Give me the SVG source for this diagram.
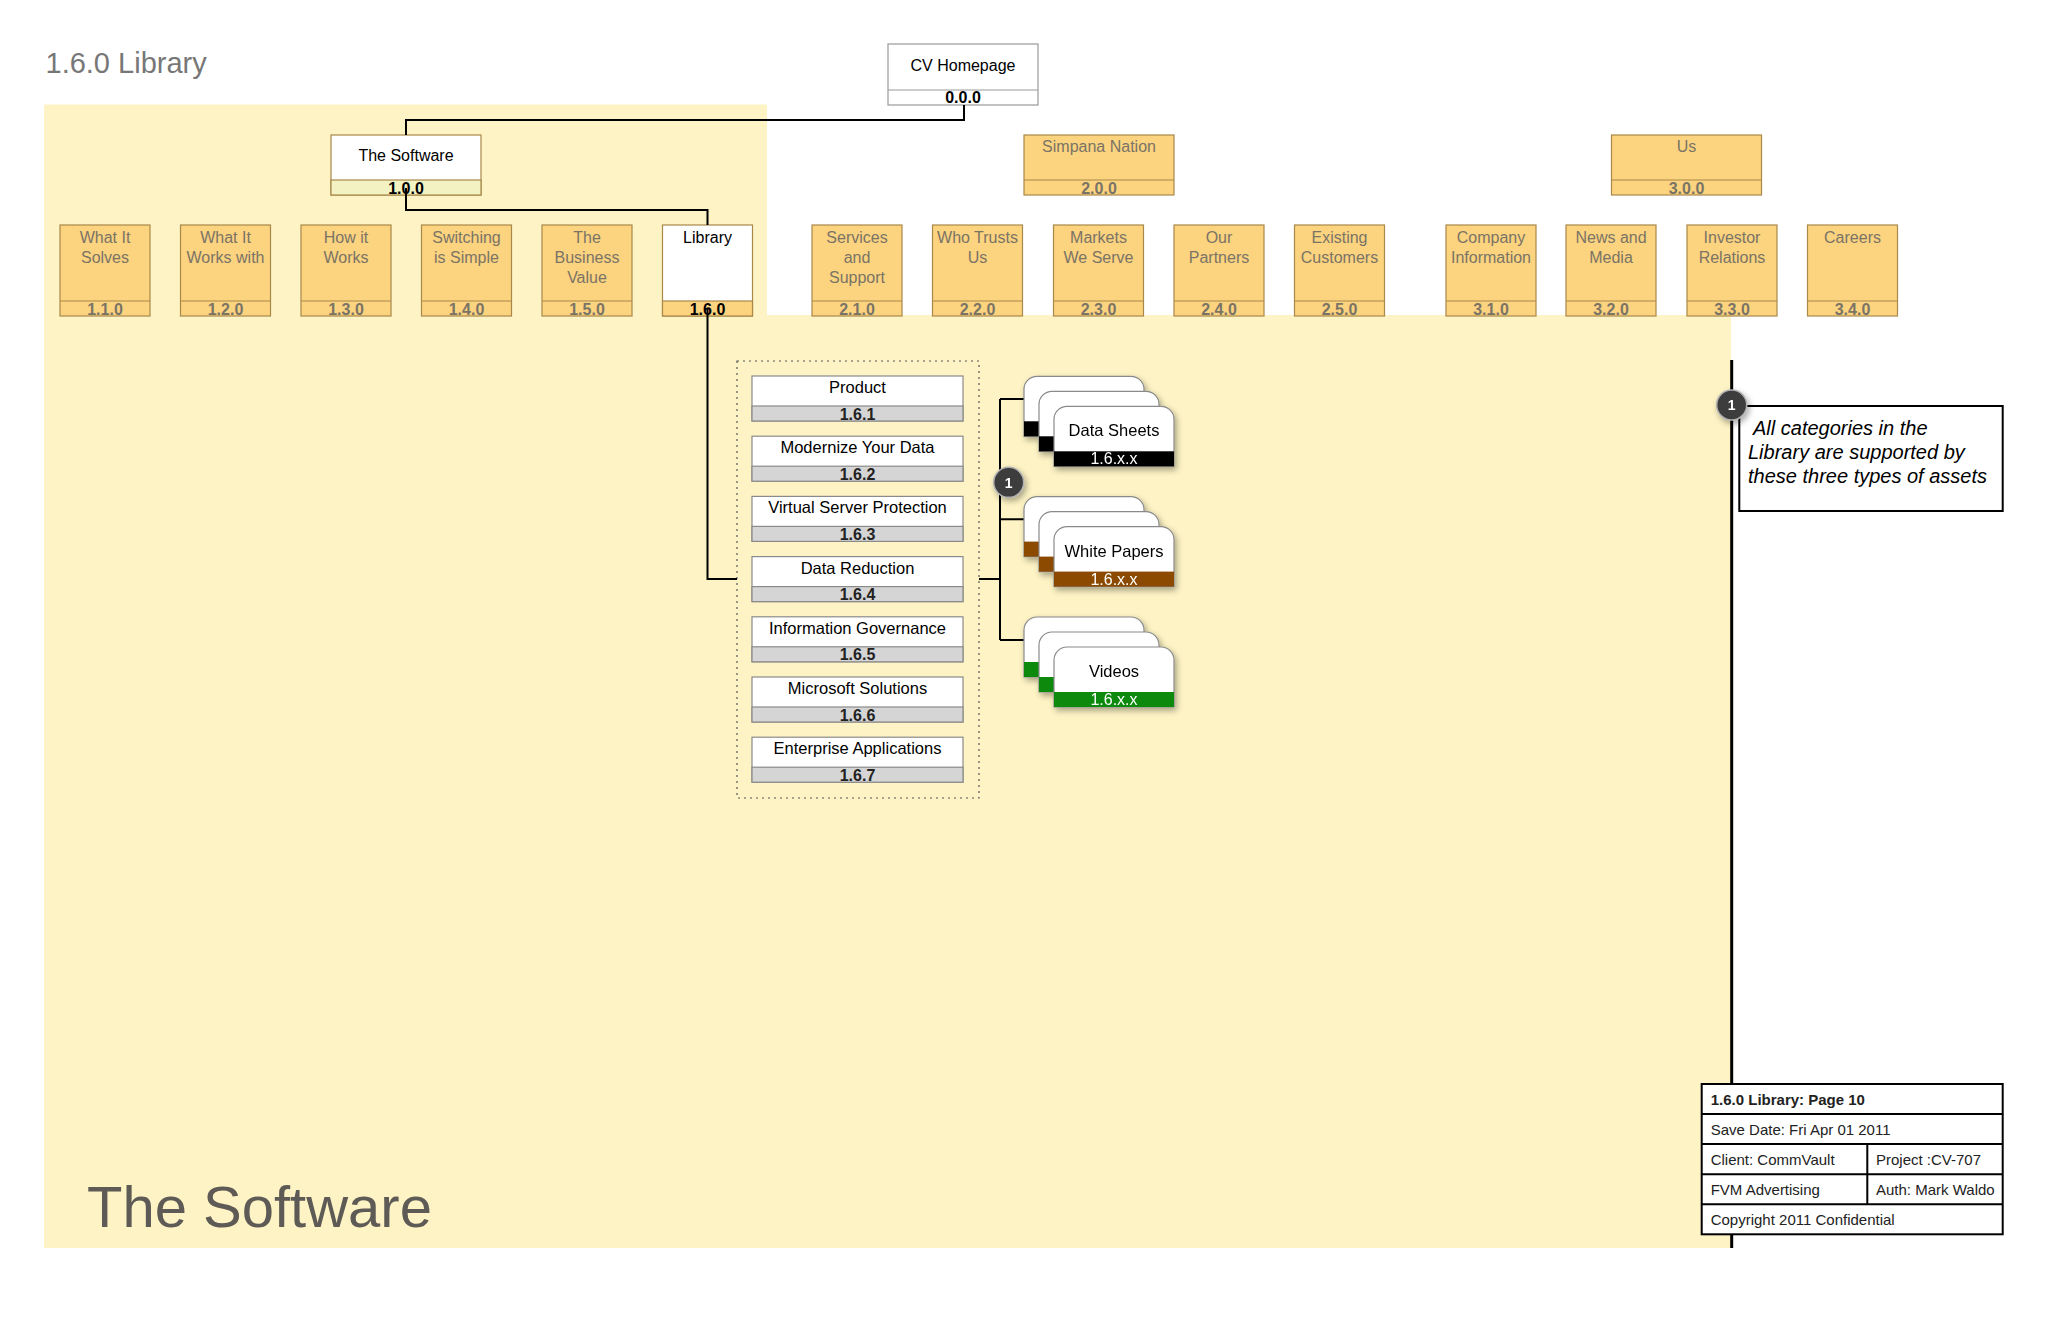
<svg xmlns="http://www.w3.org/2000/svg" width="2048" height="1325" viewBox="0 0 2048 1325">
<defs>
<style>
text{font-family:"Liberation Sans",Arial,sans-serif}
.lbl{font-size:16px;text-anchor:middle}
.num{font-size:16px;font-weight:bold;text-anchor:middle}
.dim{fill:#7a7466}
.ob{fill:#fcd37f;stroke:#a8894a;stroke-width:1.2}
.wb{fill:#ffffff;stroke:#a8894a;stroke-width:1.2}
.cb{fill:#ffffff;stroke:#8a8a8a;stroke-width:1.2}
.gb{fill:#d5d5d5;stroke:#8a8a8a;stroke-width:1.2}
.ct{font-size:16.5px;text-anchor:middle;fill:#000}
.cn{font-size:16px;font-weight:bold;text-anchor:middle;fill:#222}
.conn{fill:none;stroke:#000;stroke-width:2}
.card{fill:#ffffff;stroke:#8a8a8a;stroke-width:1.2}
.at{font-size:16.5px;text-anchor:middle;fill:#000}
.an{font-size:16px;text-anchor:middle;fill:#ffffff}
.tb{font-size:15px;fill:#222}
</style>
<filter id="sh" x="-30%" y="-30%" width="160%" height="160%">
<feGaussianBlur in="SourceAlpha" stdDeviation="3"/>
<feOffset dx="2" dy="3" result="b"/>
<feComponentTransfer><feFuncA type="linear" slope="0.35"/></feComponentTransfer>
<feMerge><feMergeNode/><feMergeNode in="SourceGraphic"/></feMerge>
</filter>
<path id="cardShape" d="M0,60 V13 A13,13 0 0 1 13,0 H107 A13,13 0 0 1 120,13 V60 Z"/>
</defs>

<rect width="2048" height="1325" fill="#ffffff"/>
<path d="M44,104.5 H767 V315 H1731 V1248 H44 Z" fill="#fdf3c4"/>

<text x="45.5" y="73" font-size="29" fill="#777777">1.6.0 Library</text>
<text x="87" y="1227" font-size="58" fill="#5e5a55">The Software</text>

<!-- Level 0 -->
<g id="n000">
<rect x="888" y="44" width="150" height="61" fill="#fff" stroke="#999" stroke-width="1.2"/>
<line x1="888" y1="90" x2="1038" y2="90" stroke="#999" stroke-width="1.2"/>
<text class="lbl" x="963" y="70.5">CV Homepage</text>
<text class="num" x="963" y="103">0.0.0</text>
</g>

<!-- Level 1 -->
<g id="n100">
<rect x="331" y="135" width="150" height="60" class="wb"/>
<rect x="331" y="180" width="150" height="15" fill="#f2f2c2" stroke="#a8894a" stroke-width="1.2"/>
<text class="lbl" x="406" y="160.5">The Software</text>
<text class="num" x="406" y="193.5">1.0.0</text>
</g>
<g id="n200">
<rect x="1024" y="135" width="150" height="60" class="ob"/>
<line x1="1024" y1="180" x2="1174" y2="180" stroke="#a8894a" stroke-width="1.2"/>
<text class="lbl dim" x="1099" y="152">Simpana Nation</text>
<text class="num dim" x="1099" y="193.5">2.0.0</text>
</g>
<g id="n300">
<rect x="1611.5" y="135" width="150" height="60" class="ob"/>
<line x1="1611.5" y1="180" x2="1761.5" y2="180" stroke="#a8894a" stroke-width="1.2"/>
<text class="lbl dim" x="1686.5" y="152">Us</text>
<text class="num dim" x="1686.5" y="193.5">3.0.0</text>
</g>

<!-- Level 2 -->
<g id="n110"><rect x="60" y="225" width="90" height="91" class="ob"/><line x1="60" y1="301" x2="150" y2="301" stroke="#a8894a" stroke-width="1.2"/><text class="lbl dim" x="105" y="242.5">What It</text><text class="lbl dim" x="105" y="262.5">Solves</text><text class="num dim" x="105" y="314.5">1.1.0</text></g>
<g id="n120"><rect x="180.5" y="225" width="90" height="91" class="ob"/><line x1="180.5" y1="301" x2="270.5" y2="301" stroke="#a8894a" stroke-width="1.2"/><text class="lbl dim" x="225.5" y="242.5">What It</text><text class="lbl dim" x="225.5" y="262.5">Works with</text><text class="num dim" x="225.5" y="314.5">1.2.0</text></g>
<g id="n130"><rect x="301" y="225" width="90" height="91" class="ob"/><line x1="301" y1="301" x2="391" y2="301" stroke="#a8894a" stroke-width="1.2"/><text class="lbl dim" x="346" y="242.5">How it</text><text class="lbl dim" x="346" y="262.5">Works</text><text class="num dim" x="346" y="314.5">1.3.0</text></g>
<g id="n140"><rect x="421.5" y="225" width="90" height="91" class="ob"/><line x1="421.5" y1="301" x2="511.5" y2="301" stroke="#a8894a" stroke-width="1.2"/><text class="lbl dim" x="466.5" y="242.5">Switching</text><text class="lbl dim" x="466.5" y="262.5">is Simple</text><text class="num dim" x="466.5" y="314.5">1.4.0</text></g>
<g id="n150"><rect x="542" y="225" width="90" height="91" class="ob"/><line x1="542" y1="301" x2="632" y2="301" stroke="#a8894a" stroke-width="1.2"/><text class="lbl dim" x="587" y="242.5">The</text><text class="lbl dim" x="587" y="262.5">Business</text><text class="lbl dim" x="587" y="282.5">Value</text><text class="num dim" x="587" y="314.5">1.5.0</text></g>
<g id="n160"><rect x="662.5" y="225" width="90" height="91" class="wb"/><rect x="662.5" y="301" width="90" height="15" class="ob"/><text class="lbl" x="707.5" y="242.5">Library</text><text class="num" x="707.5" y="314.5">1.6.0</text></g>
<g id="n210"><rect x="812" y="225" width="90" height="91" class="ob"/><line x1="812" y1="301" x2="902" y2="301" stroke="#a8894a" stroke-width="1.2"/><text class="lbl dim" x="857" y="242.5">Services</text><text class="lbl dim" x="857" y="262.5">and</text><text class="lbl dim" x="857" y="282.5">Support</text><text class="num dim" x="857" y="314.5">2.1.0</text></g>
<g id="n220"><rect x="932.5" y="225" width="90" height="91" class="ob"/><line x1="932.5" y1="301" x2="1022.5" y2="301" stroke="#a8894a" stroke-width="1.2"/><text class="lbl dim" x="977.5" y="242.5">Who Trusts</text><text class="lbl dim" x="977.5" y="262.5">Us</text><text class="num dim" x="977.5" y="314.5">2.2.0</text></g>
<g id="n230"><rect x="1053.5" y="225" width="90" height="91" class="ob"/><line x1="1053.5" y1="301" x2="1143.5" y2="301" stroke="#a8894a" stroke-width="1.2"/><text class="lbl dim" x="1098.5" y="242.5">Markets</text><text class="lbl dim" x="1098.5" y="262.5">We Serve</text><text class="num dim" x="1098.5" y="314.5">2.3.0</text></g>
<g id="n240"><rect x="1174" y="225" width="90" height="91" class="ob"/><line x1="1174" y1="301" x2="1264" y2="301" stroke="#a8894a" stroke-width="1.2"/><text class="lbl dim" x="1219" y="242.5">Our</text><text class="lbl dim" x="1219" y="262.5">Partners</text><text class="num dim" x="1219" y="314.5">2.4.0</text></g>
<g id="n250"><rect x="1294.5" y="225" width="90" height="91" class="ob"/><line x1="1294.5" y1="301" x2="1384.5" y2="301" stroke="#a8894a" stroke-width="1.2"/><text class="lbl dim" x="1339.5" y="242.5">Existing</text><text class="lbl dim" x="1339.5" y="262.5">Customers</text><text class="num dim" x="1339.5" y="314.5">2.5.0</text></g>
<g id="n310"><rect x="1446" y="225" width="90" height="91" class="ob"/><line x1="1446" y1="301" x2="1536" y2="301" stroke="#a8894a" stroke-width="1.2"/><text class="lbl dim" x="1491" y="242.5">Company</text><text class="lbl dim" x="1491" y="262.5">Information</text><text class="num dim" x="1491" y="314.5">3.1.0</text></g>
<g id="n320"><rect x="1566" y="225" width="90" height="91" class="ob"/><line x1="1566" y1="301" x2="1656" y2="301" stroke="#a8894a" stroke-width="1.2"/><text class="lbl dim" x="1611" y="242.5">News and</text><text class="lbl dim" x="1611" y="262.5">Media</text><text class="num dim" x="1611" y="314.5">3.2.0</text></g>
<g id="n330"><rect x="1687" y="225" width="90" height="91" class="ob"/><line x1="1687" y1="301" x2="1777" y2="301" stroke="#a8894a" stroke-width="1.2"/><text class="lbl dim" x="1732" y="242.5">Investor</text><text class="lbl dim" x="1732" y="262.5">Relations</text><text class="num dim" x="1732" y="314.5">3.3.0</text></g>
<g id="n340"><rect x="1807.5" y="225" width="90" height="91" class="ob"/><line x1="1807.5" y1="301" x2="1897.5" y2="301" stroke="#a8894a" stroke-width="1.2"/><text class="lbl dim" x="1852.5" y="242.5">Careers</text><text class="num dim" x="1852.5" y="314.5">3.4.0</text></g>

<!-- Level 3 group -->
<g id="group16">
<rect x="737" y="361" width="242" height="437" fill="none" stroke="#555" stroke-width="1.2" stroke-dasharray="2,4"/>
</g>
<g id="n161"><rect x="752" y="376" width="211" height="45" class="cb"/><rect x="752" y="406" width="211" height="15" class="gb"/><text class="ct" x="857.5" y="393">Product</text><text class="cn" x="857.5" y="419.5">1.6.1</text></g>
<g id="n162"><rect x="752" y="436.2" width="211" height="45" class="cb"/><rect x="752" y="466.2" width="211" height="15" class="gb"/><text class="ct" x="857.5" y="453.2">Modernize Your Data</text><text class="cn" x="857.5" y="479.7">1.6.2</text></g>
<g id="n163"><rect x="752" y="496.4" width="211" height="45" class="cb"/><rect x="752" y="526.4" width="211" height="15" class="gb"/><text class="ct" x="857.5" y="513.4">Virtual Server Protection</text><text class="cn" x="857.5" y="539.9">1.6.3</text></g>
<g id="n164"><rect x="752" y="556.6" width="211" height="45" class="cb"/><rect x="752" y="586.6" width="211" height="15" class="gb"/><text class="ct" x="857.5" y="573.6">Data Reduction</text><text class="cn" x="857.5" y="600.1">1.6.4</text></g>
<g id="n165"><rect x="752" y="616.8" width="211" height="45" class="cb"/><rect x="752" y="646.8" width="211" height="15" class="gb"/><text class="ct" x="857.5" y="633.8">Information Governance</text><text class="cn" x="857.5" y="660.3">1.6.5</text></g>
<g id="n166"><rect x="752" y="677" width="211" height="45" class="cb"/><rect x="752" y="707" width="211" height="15" class="gb"/><text class="ct" x="857.5" y="694">Microsoft Solutions</text><text class="cn" x="857.5" y="720.5">1.6.6</text></g>
<g id="n167"><rect x="752" y="737.2" width="211" height="45" class="cb"/><rect x="752" y="767.2" width="211" height="15" class="gb"/><text class="ct" x="857.5" y="754.2">Enterprise Applications</text><text class="cn" x="857.5" y="780.7">1.6.7</text></g>

<!-- Connectors -->
<g id="connectors">
<path class="conn" d="M964,105 V120 H406 V135"/>
<path class="conn" d="M406,188 V210 H707.5 V225"/>
<path class="conn" d="M707.5,309 V579 H737"/>
<path class="conn" d="M979,579 H1000 M1000,399 V640 M1000,399 H1024 M1000,519.3 H1024 M1000,640 H1024"/>
<path d="M1731.7,360 V1248" fill="none" stroke="#000" stroke-width="3"/>
</g>

<!-- Asset stacks -->
<g id="datasheets" filter="url(#sh)">
<g transform="translate(1024,376.3)"><use href="#cardShape" class="card"/><rect x="0" y="45" width="120" height="15" fill="#000"/></g>
<g transform="translate(1039,391.3)"><use href="#cardShape" class="card"/><rect x="0" y="45" width="120" height="15" fill="#000"/></g>
<g transform="translate(1054,406.3)"><use href="#cardShape" class="card"/><rect x="0" y="45" width="120" height="15" fill="#000"/><text class="at" x="60" y="30">Data Sheets</text><text class="an" x="60" y="58">1.6.x.x</text></g>
</g>
<g id="whitepapers" filter="url(#sh)">
<g transform="translate(1024,496.6)"><use href="#cardShape" class="card"/><rect x="0" y="45" width="120" height="15" fill="#8c4a00"/></g>
<g transform="translate(1039,511.6)"><use href="#cardShape" class="card"/><rect x="0" y="45" width="120" height="15" fill="#8c4a00"/></g>
<g transform="translate(1054,526.6)"><use href="#cardShape" class="card"/><rect x="0" y="45" width="120" height="15" fill="#8c4a00"/><text class="at" x="60" y="30">White Papers</text><text class="an" x="60" y="58">1.6.x.x</text></g>
</g>
<g id="videos" filter="url(#sh)">
<g transform="translate(1024,617)"><use href="#cardShape" class="card"/><rect x="0" y="45" width="120" height="15" fill="#0a8a0a"/></g>
<g transform="translate(1039,632)"><use href="#cardShape" class="card"/><rect x="0" y="45" width="120" height="15" fill="#0a8a0a"/></g>
<g transform="translate(1054,647)"><use href="#cardShape" class="card"/><rect x="0" y="45" width="120" height="15" fill="#0a8a0a"/><text class="at" x="60" y="30">Videos</text><text class="an" x="60" y="58">1.6.x.x</text></g>
</g>

<!-- Note -->
<g id="note">
<rect x="1739.3" y="406" width="263.4" height="105" fill="#fff" stroke="#000" stroke-width="2"/>
<text x="1753" y="434.5" font-size="20" font-style="italic" fill="#000">All categories in the</text>
<text x="1748" y="458.5" font-size="20" font-style="italic" fill="#000">Library are supported by</text>
<text x="1748" y="482.5" font-size="20" font-style="italic" fill="#000">these three types of assets</text>
</g>

<!-- Badges -->
<g id="badge1" filter="url(#sh)">
<circle cx="1008.7" cy="482.3" r="15" fill="#3c3c3c" stroke="#b0b0b0" stroke-width="1.5"/>
<text x="1008.7" y="487.5" font-size="14" font-weight="bold" fill="#fff" text-anchor="middle">1</text>
</g>
<g id="badge2" filter="url(#sh)">
<circle cx="1731.7" cy="405" r="15" fill="#3c3c3c" stroke="#b0b0b0" stroke-width="1.5"/>
<text x="1731.7" y="410.2" font-size="14" font-weight="bold" fill="#fff" text-anchor="middle">1</text>
</g>

<!-- Title block -->
<g id="titleblock">
<rect x="1701.7" y="1084" width="301" height="150.3" fill="#fff" stroke="#000" stroke-width="2"/>
<path d="M1701.7,1114 H2002.7 M1701.7,1144 H2002.7 M1701.7,1174.3 H2002.7 M1701.7,1204.3 H2002.7 M1867.3,1144 V1204.3" stroke="#000" stroke-width="2" fill="none"/>
<text class="tb" x="1710.7" y="1105" font-weight="bold">1.6.0 Library: Page 10</text>
<text class="tb" x="1710.7" y="1135">Save Date: Fri Apr 01 2011</text>
<text class="tb" x="1710.7" y="1165">Client: CommVault</text>
<text class="tb" x="1876" y="1165">Project :CV-707</text>
<text class="tb" x="1710.7" y="1195">FVM Advertising</text>
<text class="tb" x="1876" y="1195">Auth: Mark Waldo</text>
<text class="tb" x="1710.7" y="1225">Copyright 2011 Confidential</text>
</g>
</svg>
